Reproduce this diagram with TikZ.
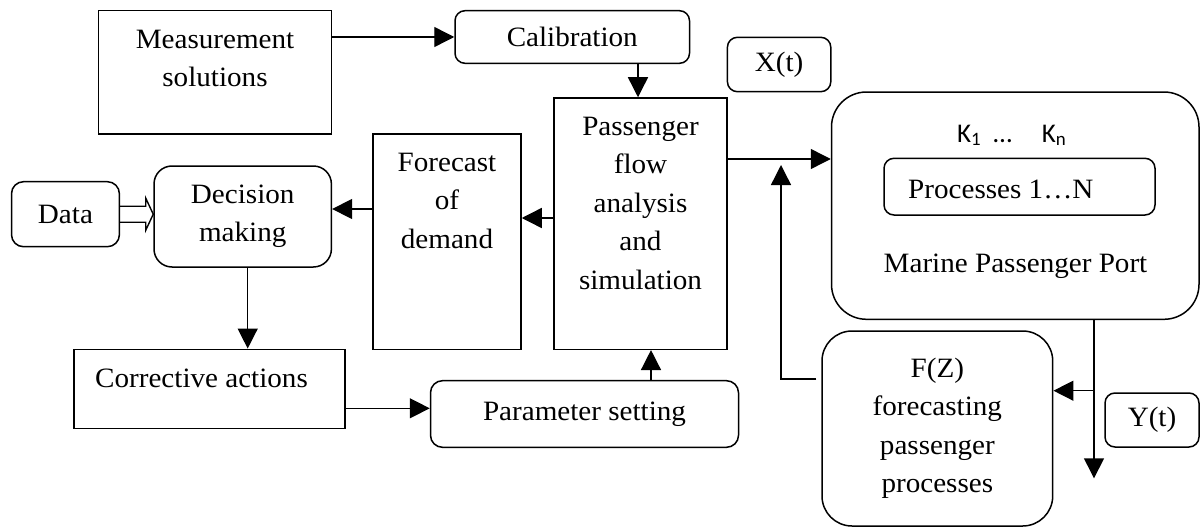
\documentclass[tikz,border=0pt]{standalone}
\usepackage{fontspec}
\setmainfont{Liberation Serif}[FakeStretch=1.04]
\newfontfamily\kfont{Carlito}
\usetikzlibrary{arrows.meta,calc}
\begin{document}
\begin{tikzpicture}[x=1pt,y=-1pt,
  font=\fontsize{28pt}{38.5pt}\selectfont,
  bx/.style={draw, line width=1.5pt, inner sep=0pt, align=center},
  rbx/.style={bx, rounded corners=#1},
  txt/.style={inner sep=0pt, align=center},
  arr/.style={line width=1.4pt, -{Triangle[length=20pt,width=20pt]}},
  blk/.style={line width=1.4pt, line join=miter}]
\useasboundingbox (0,0) rectangle (1202,527);

% boxes
\node[bx, minimum width=232.7pt, minimum height=123.3pt] (meas) at (215.05,72.35) {};
\node[txt] (measT) at (215,58.4) {Measurement\\solutions};
\node[rbx=10pt, minimum width=234.5pt, minimum height=52.6pt] (cal) at (572.25,37) {Calibration};
\node[rbx=10pt, minimum width=103.4pt, minimum height=54.4pt] (xt) at (779.1,64.5) {X(t)};
\node[bx, minimum width=173pt, minimum height=251.3pt] (pass) at (640.5,223.65) {};
\node[txt] (passT) at (640.5,203) {Passenger\\flow\\analysis\\and\\simulation};
\node[bx, minimum width=148pt, minimum height=215.3pt] (fore) at (447,241.65) {};
\node[txt] (foreT) at (447,200.5) {Forecast\\of\\demand};
\node[rbx=12pt, minimum width=107.9pt, minimum height=65pt] (data) at (65.45,214.2) {Data};
\node[rbx=18pt, minimum width=177.4pt, minimum height=101pt] (dec) at (242.7,216.5) {Decision\\making};
\node[bx, minimum width=271.3pt, minimum height=79pt] (corr) at (209.55,388.8) {};
\node[txt] (corrT) at (201.5,378) {Corrective actions};
\node[rbx=12pt, minimum width=308pt, minimum height=66.6pt] (param) at (584.5,414) {Parameter setting};
\node[rbx=35pt, minimum width=367.5pt, minimum height=227.3pt] (marine) at (1015.25,205.65) {};
\node[txt, anchor=base west] (kT) at (957,142) {\kfont\fontsize{27pt}{30pt}\selectfont K\textsubscript{1}\hspace{12pt}…\hspace{30pt}K\textsubscript{n}};
\node[rbx=10pt, minimum width=271pt, minimum height=56.7pt] (proc) at (1019.5,186.65) {};
\node[txt, anchor=base west] (procT) at (908,198) {Processes 1…N};
\node[txt] (marineT) at (1015.5,266) {Marine Passenger Port};
\node[rbx=30pt, minimum width=230.7pt, minimum height=195pt] (fz) at (937.35,428.5) {F(Z)\\forecasting\\passenger\\processes};
\node[rbx=10pt, minimum width=94pt, minimum height=54pt] (yt) at (1152,420) {Y(t)};

% connectors
\draw[arr] (meas.east |- cal.west) -- (cal.west);
\draw[arr] ([xshift=65.75pt]cal.south) -- ([xshift=65.75pt]cal.south |- pass.north);
\draw[arr] (pass.west |- 0,218) -- (fore.east |- 0,218);
\draw[arr] (fore.west |- 0,209) -- (dec.east |- 0,209);
\draw[blk] ($(data.east)+(0,-8)$) -- ($(data.east)+(25.6,-8)$) -- ($(data.east)+(25.6,-16)$)
  -- (dec.west |- data.east) -- ($(data.east)+(25.6,16)$) -- ($(data.east)+(25.6,8)$) -- ($(data.east)+(0,8)$);
\draw[arr] ([xshift=5pt]dec.south) -- ([xshift=5pt]dec.south |- corr.north);
\draw[arr] (corr.east |- 0,408.3) -- (param.west |- 0,408.3);
\draw[arr] ([xshift=66.5pt]param.north) -- ([xshift=66.5pt]param.north |- pass.south);
\draw[arr] (pass.east |- 0,159) -- (marine.west |- 0,159);
\coordinate (fbtip) at (781,165);
\draw[arr] ([xshift=-5pt]fz.west |- 0,379) -| (fbtip);
\coordinate (yout) at (1094,478.3);
\draw[arr] (marine.south -| yout) -- (yout);
\draw[arr] (yout |- 0,390.7) -- (fz.east |- 0,390.7);
\end{tikzpicture}
\end{document}
